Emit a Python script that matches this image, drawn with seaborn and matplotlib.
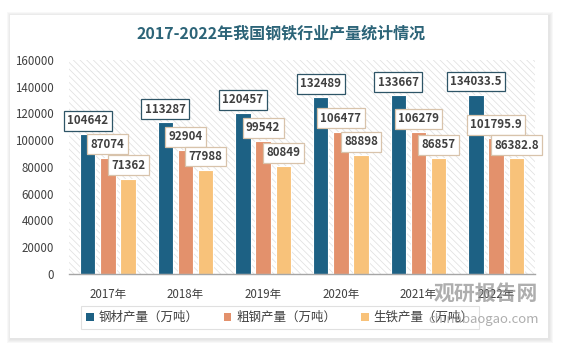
import matplotlib
matplotlib.use("Agg")
import matplotlib.pyplot as plt
import matplotlib.patches as mpatches
import seaborn as sns
import pandas as pd

years = ["2017年", "2018年", "2019年", "2020年", "2021年", "2022年"]
series_names = ["钢材产量（万吨）", "粗钢产量（万吨）", "生铁产量（万吨）"]
steel_products = [104642, 113287, 120457, 132489, 133667, 134033.5]
crude_steel = [87074, 92904, 99542, 106477, 106279, 101795.9]
pig_iron = [71362, 77988, 80849, 88898, 86857, 86382.8]
yticks = [0, 20000, 40000, 60000, 80000, 100000, 120000, 140000, 160000]

colors = ["#1d6184", "#e3916c", "#f8c27a"]
box_edges = ["#2e5567", "#d8c3ab", "#d8c3ab"]

df = pd.DataFrame({
    "year": years * 3,
    "series": [series_names[0]] * 6 + [series_names[1]] * 6 + [series_names[2]] * 6,
    "value": steel_products + crude_steel + pig_iron,
})

sns.set_theme(style="white")
plt.rcParams["font.family"] = ["Noto Sans CJK SC", "DejaVu Sans"]
plt.rcParams["hatch.linewidth"] = 0.5

W, H = 563, 350
fig = plt.figure(figsize=(W / 100, H / 100), dpi=100)
fig.patch.set_facecolor("white")

# card with soft shadow
for i in range(4):
    pad = 4 - i
    fig.add_artist(mpatches.Rectangle(((10 - pad + 1) / W, 1 - (338 + pad + 1) / H),
                                      (538 + 2 * pad) / W, (323 + 2 * pad) / H,
                                      transform=fig.transFigure, facecolor="#808080",
                                      alpha=0.05, edgecolor="none", zorder=0))
fig.add_artist(mpatches.Rectangle((10 / W, 1 - 338 / H), 538 / W, 323 / H,
                                  transform=fig.transFigure, facecolor="white",
                                  edgecolor="none", zorder=0.5))

ax = fig.add_axes([69 / W, 1 - 274 / H, 466 / W, 214 / H])
ax.set_zorder(1)
ax.patch.set_alpha(0)
# hatched plot background
ax.add_patch(mpatches.Rectangle((0, 0), 1, 1, transform=ax.transAxes, facecolor="white",
                                edgecolor="#dedede", linewidth=0, hatch="\\\\\\\\\\", zorder=0))

sns.barplot(data=df, x="year", y="value", hue="series", palette=colors, saturation=1,
            width=0.78, gap=0.23, ax=ax, edgecolor="white", linewidth=0.8,
            legend=False, zorder=2)

ax.set_ylim(0, 160000)
ax.set_yticks(yticks)
ax.set_yticklabels([str(v) for v in yticks], fontsize=8.3, color="#404040")
ax.tick_params(axis="x", labelsize=8.3, colors="#404040", length=0, pad=10)
ax.tick_params(axis="y", length=0, pad=11)
ax.set_xlabel("")
ax.set_ylabel("")
for s in ["top", "right", "left"]:
    ax.spines[s].set_visible(False)
ax.spines["bottom"].set_color("#a6a6a6")
ax.spines["bottom"].set_linewidth(1)


def fmt(v):
    s = f"{v}"
    return s[:-2] if s.endswith(".0") else s


# value labels
for ci, cont in enumerate(ax.containers):
    vals = [steel_products, crude_steel, pig_iron][ci]
    for bar, v in zip(cont, vals):
        ax.annotate(fmt(v), (bar.get_x() + bar.get_width() / 2, bar.get_height()),
                    xytext=(0, 9.5), textcoords="offset points", ha="center", va="center",
                    fontsize=8.3, color="#404040", fontweight="bold", zorder=5,
                    bbox=dict(boxstyle="square,pad=0.3", facecolor="white",
                              edgecolor=box_edges[ci], linewidth=0.9))

# title
fig.text(281 / W, 1 - 33 / H, "2017-2022年我国钢铁行业产量统计情况", ha="center", va="center",
         fontsize=11.5, fontweight="bold", color="#2c6478")

# legend
handles = [mpatches.Patch(facecolor=c, edgecolor="none") for c in colors]
leg = fig.legend(handles, series_names, loc="center", ncol=3,
                 bbox_to_anchor=(280 / W, 1 - 317.5 / H), frameon=True, fancybox=False,
                 edgecolor="#d9d9d9", fontsize=9, handlelength=0.6, handleheight=0.6,
                 handletextpad=0.4, columnspacing=2.0, borderpad=0.4, borderaxespad=0)
leg.get_frame().set_linewidth(0.8)
for t in leg.get_texts():
    t.set_color("#404040")

# watermark
fig.text(486 / W, 1 - 293 / H, "观研报告网", ha="center", va="center", fontsize=15,
         fontweight="bold", color="#8c8c8c", alpha=0.7, zorder=10)
fig.text(484 / W, 1 - 319 / H, "chinabaogao.com", ha="center", va="center", fontsize=9.5,
         color="#8c8c8c", alpha=0.7, zorder=10)

fig.savefig("out.png", dpi=100)
